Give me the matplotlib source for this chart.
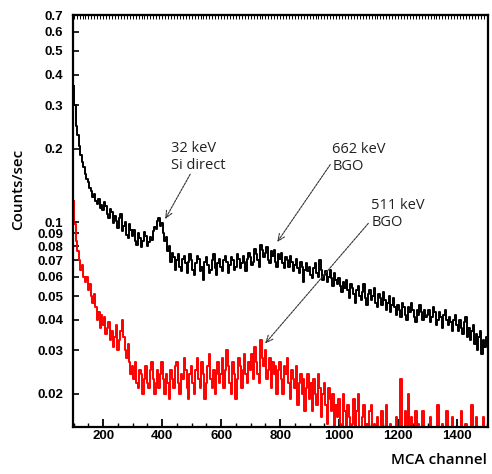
import numpy as np
import matplotlib
matplotlib.use("Agg")
import matplotlib.pyplot as plt
from matplotlib.ticker import FixedLocator, MultipleLocator, NullFormatter

# MCA channel bins (every 5 channels)
channels = np.arange(100, 1501, 5)

# count rates in units of 1e-3 counts/sec
black_mcps = [
    360, 300, 248, 226, 205, 188, 176, 168, 158, 150, 146, 138, 134, 127, 131, 122, 119, 124, 114, 118,
    112, 121, 116, 108, 104, 113, 110, 99, 106, 101, 95, 104, 108, 92, 97, 100, 89, 86, 98, 93,
    88, 93, 84, 81, 90, 86, 79, 84, 91, 88, 80, 83, 87, 85, 92, 96, 94, 101, 104, 97,
    99, 90, 84, 87, 76, 80, 69, 75, 72, 64, 70, 74, 66, 63, 71, 73, 68, 62, 69, 74,
    70, 64, 61, 68, 73, 71, 63, 66, 58, 69, 72, 67, 62, 64, 70, 74, 65, 61, 68, 71,
    66, 63, 70, 73, 69, 62, 67, 72, 70, 64, 66, 74, 71, 65, 68, 73, 69, 63, 71, 75,
    72, 67, 69, 78, 74, 70, 66, 81, 77, 72, 75, 79, 70, 68, 76, 73, 77, 69, 66, 74,
    71, 75, 68, 65, 72, 70, 66, 73, 69, 63, 67, 71, 65, 62, 69, 66, 57, 64, 68, 63,
    66, 61, 59, 65, 68, 62, 60, 70, 64, 58, 61, 63, 57, 60, 64, 59, 55, 62, 58, 56,
    59, 55, 52, 57, 54, 58, 53, 49, 56, 54, 51, 47, 53, 55, 50, 48, 52, 56, 49, 46,
    51, 53, 48, 50, 54, 47, 45, 51, 49, 46, 52, 48, 44, 47, 50, 43, 46, 49, 45, 42,
    46, 44, 41, 47, 45, 42, 40, 45, 43, 47, 44, 41, 39, 44, 42, 46, 43, 40, 44, 41,
    42, 44, 39, 41, 45, 43, 38, 40, 43, 41, 37, 42, 44, 40, 38, 41, 39, 36, 40, 42,
    38, 36, 40, 37, 35, 39, 41, 34, 37, 33, 36, 38, 32, 35, 30, 34, 36, 29, 33, 31,
    34,
]
red_mcps = [
    122, 98, 84, 76, 70, 64, 67, 60, 57, 60, 53, 56, 50, 47, 51, 45, 40, 43, 37, 42,
    38, 41, 35, 37, 39, 33, 36, 31, 34, 38, 30, 33, 36, 40, 34, 30, 28, 32, 27, 24,
    26, 23, 27, 22, 21, 25, 24, 20, 23, 26, 22, 21, 25, 27, 23, 20, 22, 25, 21, 24,
    27, 23, 20, 24, 22, 19, 25, 23, 21, 26, 27, 22, 20, 24, 23, 28, 25, 21, 19, 24,
    26, 22, 20, 25, 28, 23, 21, 27, 24, 19, 22, 26, 29, 23, 21, 25, 20, 24, 27, 22,
    24, 28, 21, 25, 30, 26, 22, 20, 27, 24, 19, 23, 28, 26, 21, 25, 29, 24, 22, 27,
    25, 29, 23, 31, 27, 24, 22, 33, 28, 26, 30, 23, 25, 28, 21, 27, 24, 26, 20, 25,
    27, 23, 20, 26, 24, 28, 22, 19, 25, 23, 21, 26, 18, 22, 24, 20, 23, 17, 21, 24,
    19, 22, 17, 23, 20, 18, 24, 21, 16, 20, 22, 18, 15, 21, 19, 17, 20, 14, 18, 16,
    19, 15, 13, 20, 17, 14, 18, 16, 12, 15, 19, 13, 17, 20, 12, 14, 16, 18, 12, 15,
    13, 17, 18, 12, 15, 11, 16, 14, 12, 17, 11, 13, 18, 12, 11, 15, 13, 11, 10, 16,
    11, 14, 23, 12, 11, 17, 13, 20, 11, 16, 12, 10, 17, 11, 15, 10, 12, 17, 10, 14,
    11, 10, 16, 11, 13, 10, 10, 18, 11, 10, 15, 10, 11, 17, 10, 13, 10, 16, 10, 11,
    14, 10, 10, 17, 11, 10, 15, 10, 13, 10, 18, 11, 10, 16, 10, 10, 14, 10, 16, 10,
    11,
]

ytick_vals = [0.02, 0.03, 0.04, 0.05, 0.06, 0.07, 0.08, 0.09,
              0.1, 0.2, 0.3, 0.4, 0.5, 0.6, 0.7]
ytick_text = ['0.02', '0.03', '0.04', '0.05', '0.06', '0.07', '0.08', '0.09',
              '0.1', '0.2', '0.3', '0.4', '0.5', '0.6', '0.7']
xtick_vals = [200, 400, 600, 800, 1000, 1200, 1400]

# annotations: text, text anchor, arrow tail, arrow head (channel, counts/sec)
notes = [
    ("32 keV\nSi direct", (430, 0.185), (495, 0.157), (410, 0.103)),
    ("662 keV\nBGO", (977, 0.183), (970, 0.172), (790, 0.083)),
    ("511 keV\nBGO", (1109, 0.108), (1099, 0.099), (749, 0.032)),
]

fig = plt.figure(figsize=(4.92, 4.74), dpi=100)
ax = fig.add_axes([0.148, 0.099, 0.844, 0.869])

black = np.array(black_mcps) * 1e-3
red = np.array(red_mcps) * 1e-3
ax.step(channels, red, where='mid', color='#ff0000', lw=1.4)
ax.step(channels, black, where='mid', color='black', lw=1.4)

ax.set_yscale('log')
ax.set_ylim(0.0146, 0.7)
ax.set_xlim(97, 1505)

ax.yaxis.set_major_locator(FixedLocator(ytick_vals))
ax.set_yticklabels(ytick_text)
ax.yaxis.set_minor_locator(FixedLocator([]))
ax.yaxis.set_minor_formatter(NullFormatter())
ax.xaxis.set_major_locator(FixedLocator(xtick_vals))
ax.xaxis.set_minor_locator(MultipleLocator(50))

tfont = 'Liberation Sans'
for lab in ax.get_yticklabels():
    lab.set_fontfamily(tfont)
    lab.set_fontweight('bold')
    lab.set_fontsize(9.5)
for lab in ax.get_xticklabels():
    lab.set_fontfamily(tfont)
    lab.set_fontweight('bold')
    lab.set_fontsize(9.5)

ax.tick_params(axis='y', which='major', direction='in', length=4, width=1.2, pad=7)
ax.tick_params(axis='x', which='major', direction='in', length=6, width=1.3, pad=2)
ax.tick_params(axis='x', which='minor', direction='in', length=3, width=1.0)

# dense ticks along the top edge
top = ax.secondary_xaxis('top')
top.xaxis.set_major_locator(MultipleLocator(10))
top.xaxis.set_major_formatter(NullFormatter())
top.tick_params(direction='in', length=3, width=0.7)
top.spines['top'].set_linewidth(1.5)

for s in ax.spines.values():
    s.set_linewidth(1.6)

for txt, pos, tail, head in notes:
    ax.text(pos[0], pos[1], txt, ha='left', va='center', fontsize=10.5,
            family='Open Sans', color='#222222', linespacing=1.15)
    ax.annotate('', xy=head, xytext=tail,
                arrowprops=dict(arrowstyle='->,head_length=0.5,head_width=0.22',
                                color='#333333', lw=0.8, linestyle=(0, (2, 1)),
                                shrinkA=0, shrinkB=0))

fig.text(0.037, 0.60, 'Counts/sec', rotation=90, ha='center', va='center',
         fontsize=11, family='Open Sans', fontweight='semibold')
fig.text(0.99, 0.029, 'MCA channel', ha='right', va='center',
         fontsize=11, family='Open Sans', fontweight='semibold')

fig.savefig('out.png', dpi=100)
